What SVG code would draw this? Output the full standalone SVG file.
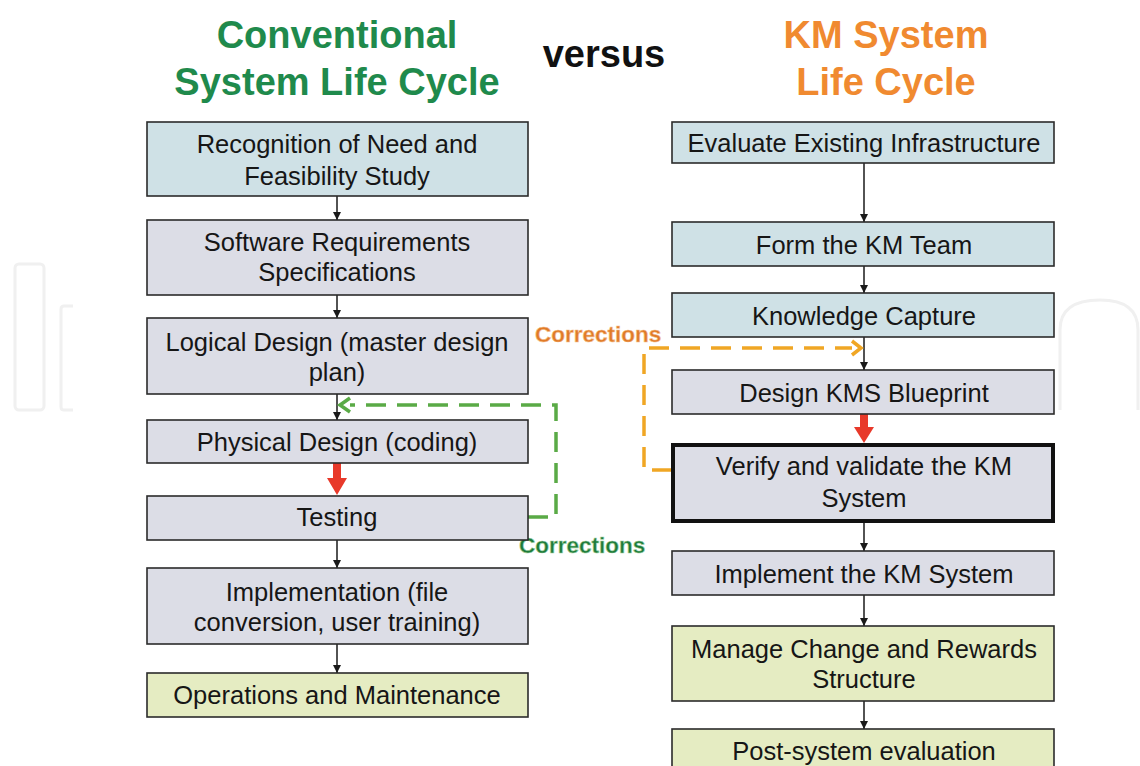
<svg xmlns="http://www.w3.org/2000/svg" width="1140" height="766" viewBox="0 0 1140 766">
<style>
.t{font-family:"Liberation Sans",Arial,sans-serif;font-size:25.5px;fill:#161616;text-anchor:middle}
.h{font-family:"Liberation Sans",Arial,sans-serif;font-size:38px;font-weight:bold;text-anchor:middle}
.c{font-family:"Liberation Sans",Arial,sans-serif;font-size:22.5px;font-weight:bold}
.blue{fill:#cfe1e6;stroke:#2b2b2b;stroke-width:1.6}
.gray{fill:#dcdde6;stroke:#2b2b2b;stroke-width:1.6}
.yel{fill:#e5ecc2;stroke:#2b2b2b;stroke-width:1.6}
.ln{stroke:#1a1a1a;stroke-width:1.5;fill:none}
</style>
<defs>
<marker id="ah" viewBox="0 0 10 10" refX="10" refY="5" markerWidth="8" markerHeight="8" markerUnits="userSpaceOnUse" orient="auto"><path d="M0,0 L10,5 L0,10 z" fill="#1a1a1a"/></marker>
</defs>
<rect width="1140" height="766" fill="#ffffff"/>
<g id="watermark" fill="none" stroke="#f0f0f0" stroke-width="3">
<rect x="15" y="264" width="29" height="146" rx="4"/>
<path d="M73,306 H64 Q61,306 61,309 V407 Q61,410 64,410 H73"/>
<path d="M1060,410 V330 Q1060,300 1100,300 Q1138,300 1138,330 V410"/>
</g>
<g id="titles">
<text class="h" x="337" y="48" fill="#1f8a4c">Conventional</text>
<text class="h" x="337" y="95" fill="#1f8a4c">System Life Cycle</text>
<text class="h" x="604" y="67" fill="#111">versus</text>
<text class="h" x="886" y="48" fill="#f08a30">KM System</text>
<text class="h" x="886" y="95" fill="#f08a30">Life Cycle</text>
</g>
<g id="connectors">
<path class="ln" d="M337,196 V220" marker-end="url(#ah)"/>
<path class="ln" d="M337,295 V318" marker-end="url(#ah)"/>
<path class="ln" d="M337,394 V420" marker-end="url(#ah)"/>
<polygon points="333,463 341,463 341,478 347,478 337,495 327,478 333,478" fill="#e8392a"/>
<path class="ln" d="M337,540 V568" marker-end="url(#ah)"/>
<path class="ln" d="M337,644 V673" marker-end="url(#ah)"/>
<path class="ln" d="M864,163 V222" marker-end="url(#ah)"/>
<path class="ln" d="M864,266 V293" marker-end="url(#ah)"/>
<path class="ln" d="M864,337 V370" marker-end="url(#ah)"/>
<polygon points="860,414 868,414 868,427 874,427 864,443 854,427 860,427" fill="#e8392a"/>
<path class="ln" d="M864,522 V551" marker-end="url(#ah)"/>
<path class="ln" d="M864,595 V626" marker-end="url(#ah)"/>
<path class="ln" d="M864,701 V729" marker-end="url(#ah)"/>
<path d="M528,517 H556 V405 H350" fill="none" stroke="#5aaa46" stroke-width="3.5" stroke-dasharray="20 11"/>
<path d="M350,398 L340,405 L350,412" fill="none" stroke="#5aaa46" stroke-width="3.5"/>
<path d="M672,470 H644 V348 H852" fill="none" stroke="#f0a624" stroke-width="3.5" stroke-dasharray="20 11"/>
<path d="M852,341 L861,348 L852,355" fill="none" stroke="#f0a624" stroke-width="3.5"/>
<text class="c" x="519" y="553" fill="#1e7a3a" stroke="#9ccf9c" stroke-width="0.6">Corrections</text>
<text class="c" x="535" y="342" fill="#e07a28" stroke="#f4c090" stroke-width="0.6">Corrections</text>
</g>
<g id="L1"><rect class="blue" x="147" y="122" width="381" height="74"/><text class="t" x="337" y="153">Recognition of Need and</text><text class="t" x="337" y="185">Feasibility Study</text></g>
<g id="L2"><rect class="gray" x="147" y="220" width="381" height="75"/><text class="t" x="337" y="251">Software Requirements</text><text class="t" x="337" y="281">Specifications</text></g>
<g id="L3"><rect class="gray" x="147" y="318" width="381" height="76"/><text class="t" x="337" y="351">Logical Design (master design</text><text class="t" x="337" y="381">plan)</text></g>
<g id="L4"><rect class="gray" x="147" y="420" width="381" height="43"/><text class="t" x="337" y="451">Physical Design (coding)</text></g>
<g id="L5"><rect class="gray" x="147" y="496" width="381" height="44"/><text class="t" x="337" y="526">Testing</text></g>
<g id="L6"><rect class="gray" x="147" y="568" width="381" height="76"/><text class="t" x="337" y="601">Implementation (file</text><text class="t" x="337" y="631">conversion, user training)</text></g>
<g id="L7"><rect class="yel" x="147" y="673" width="381" height="44"/><text class="t" x="337" y="704">Operations and Maintenance</text></g>
<g id="R1"><rect class="blue" x="672" y="122" width="382" height="41"/><text class="t" x="864" y="152">Evaluate Existing Infrastructure</text></g>
<g id="R2"><rect class="blue" x="672" y="222" width="382" height="44"/><text class="t" x="864" y="254">Form the KM Team</text></g>
<g id="R3"><rect class="blue" x="672" y="293" width="382" height="44"/><text class="t" x="864" y="325">Knowledge Capture</text></g>
<g id="R4"><rect class="gray" x="672" y="370" width="382" height="44"/><text class="t" x="864" y="402">Design KMS Blueprint</text></g>
<g id="R5"><rect x="673" y="445" width="380" height="76" fill="#dcdde6" stroke="#111" stroke-width="4"/><text class="t" x="864" y="475">Verify and validate the KM</text><text class="t" x="864" y="507">System</text></g>
<g id="R6"><rect class="gray" x="672" y="551" width="382" height="44"/><text class="t" x="864" y="583">Implement the KM System</text></g>
<g id="R7"><rect class="yel" x="672" y="626" width="382" height="75"/><text class="t" x="864" y="658">Manage Change and Rewards</text><text class="t" x="864" y="688">Structure</text></g>
<g id="R8"><rect class="yel" x="672" y="729" width="382" height="50"/><text class="t" x="864" y="760">Post-system evaluation</text></g>
</svg>
